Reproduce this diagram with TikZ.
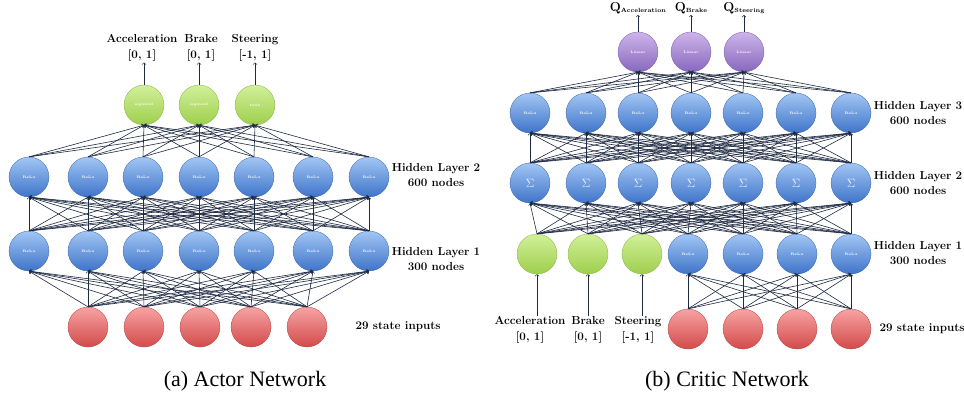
\documentclass[tikz,border=0pt]{standalone}
\usepackage{fontspec}
\usepackage{amsmath}
\newfontfamily\capfont{Liberation Serif}

\definecolor{reluT}{HTML}{A2C6F4}
\definecolor{reluB}{HTML}{3F74C9}
\definecolor{stateT}{HTML}{F7A3A3}
\definecolor{stateB}{HTML}{D34A4A}
\definecolor{actT}{HTML}{D2F09A}
\definecolor{actB}{HTML}{9DCF4C}
\definecolor{linT}{HTML}{CDB5EA}
\definecolor{linB}{HTML}{8767BD}
\definecolor{linkc}{HTML}{1E2A42}

\tikzset{
	unit/.style={circle,minimum size=40pt,inner sep=0pt,text=white,font=\fontsize{3.6}{4}\selectfont\bfseries},
	relu/.style={unit,top color=reluT,bottom color=reluB,draw=reluB!85!black,line width=0.3pt},
	sumunit/.style={relu,font=\fontsize{13}{13}\selectfont,text=white!80!reluT},
	state/.style={unit,top color=stateT,bottom color=stateB,draw=stateB!85!black,line width=0.3pt},
	act/.style={unit,top color=actT,bottom color=actB,draw=actB!85!black,line width=0.3pt},
	lin/.style={unit,top color=linT,bottom color=linB,draw=linB!85!black,line width=0.3pt},
	link/.style={->,draw=linkc,line width=0.6pt},
	lbl/.style={inner sep=1pt,align=center,font=\fontsize{11.6}{15.5}\selectfont\bfseries},
	captxt/.style={font=\capfont\fontsize{22}{24}\selectfont}
}

\begin{document}
\begin{tikzpicture}[x=1pt,y=-1pt]
	\useasboundingbox (0,0) rectangle (964,398);

	\foreach \x [count=\i] in {29,88,143,199,254,313,369} {
		\node[relu] (ah1-\i) at (\x,251) {ReLu};
		\node[relu] (ah2-\i) at (\x,177) {ReLu};
	}
	\foreach \x [count=\i] in {88,144,200,251,307}
		\node[state] (ain-\i) at (\x,327) {};
	\node[act] (aout-1) at (144,105) {sigmoid};
	\node[act] (aout-2) at (199,105) {sigmoid};
	\node[act] (aout-3) at (255,105) {tanh};

	\foreach \i in {1,...,5}
		\foreach \j in {1,...,7}
			\draw[link] (ain-\i.north) -- (ah1-\j.south);
	\foreach \i in {1,...,7}
		\foreach \j in {1,...,7}
			\draw[link] (ah1-\i.north) -- (ah2-\j.south);
	\foreach \i in {1,...,7}
		\foreach \j in {1,...,3}
			\draw[link] (ah2-\i.north) -- (aout-\j.south);

	\node[lbl] (alab-1) at (142,48) {Acceleration\\{}[0, 1]};
	\node[lbl] (alab-2) at (201,48) {Brake\\{}[0, 1]};
	\node[lbl] (alab-3) at (255,48) {Steering\\{}[-1, 1]};
	\foreach \j in {1,2,3}
		\draw[link] (aout-\j.north) -- (aout-\j.north |- alab-\j.south);

	\node[lbl] (ah2-txt) at (436,175) {Hidden Layer 2\\600 nodes};
	\node[lbl] (ah1-txt) at (436,259) {Hidden Layer 1\\300 nodes};
	\node[lbl] (ain-txt) at (398,327) {29 state inputs};
	\node[captxt] (acap) at (245,381) {(a) Actor Network};

	\foreach \x [count=\i] in {530,586,638,691,743,796,851} {
		\node[sumunit] (cs-\i) at (\x,183) {$\Sigma$};
		\node[relu] (ch3-\i) at (\x,113) {ReLu};
	}
	\node[act] (cg-1) at (537,254) {};
	\node[act] (cg-2) at (588,254) {};
	\node[act] (cg-3) at (642,254) {};
	\foreach \x [count=\i] in {688,743,797,851} {
		\node[relu] (ch1-\i) at (\x,254) {ReLu};
		\node[state] (cin-\i) at (\x,329) {};
	}
	\foreach \x [count=\i] in {638,691,744}
		\node[lin] (cout-\i) at (\x,52) {Linear};

	\foreach \i in {1,...,4}
		\foreach \j in {1,...,4}
			\draw[link] (cin-\i.north) -- (ch1-\j.south);
	\foreach \n in {cg-1,cg-2,cg-3,ch1-1,ch1-2,ch1-3,ch1-4}
		\foreach \j in {1,...,7}
			\draw[link] (\n.north) -- (cs-\j.south);
	\foreach \i in {1,...,7}
		\foreach \j in {1,...,7}
			\draw[link] (cs-\i.north) -- (ch3-\j.south);
	\foreach \i in {1,...,7}
		\foreach \j in {1,...,3}
			\draw[link] (ch3-\i.north) -- (cout-\j.south);

	\node[lbl] (clab-1) at (530,330) {Acceleration\\{}[0, 1]};
	\node[lbl] (clab-2) at (588,330) {Brake\\{}[0, 1]};
	\node[lbl] (clab-3) at (638,330) {Steering\\{}[-1, 1]};
	\foreach \j in {1,2,3}
		\draw[link] (cg-\j.south |- clab-\j.north) -- (cg-\j.south);

	\node[lbl,font=\fontsize{13}{14}\selectfont\bfseries] (q-1) at (638,8) {Q\raisebox{-1.5pt}{\fontsize{6}{6}\selectfont Acceleration}};
	\node[lbl,font=\fontsize{13}{14}\selectfont\bfseries] (q-2) at (691,8) {Q\raisebox{-1.5pt}{\fontsize{6}{6}\selectfont Brake}};
	\node[lbl,font=\fontsize{13}{14}\selectfont\bfseries] (q-3) at (744,8) {Q\raisebox{-1.5pt}{\fontsize{6}{6}\selectfont Steering}};
	\foreach \j in {1,2,3}
		\draw[link] (cout-\j.north) -- (cout-\j.north |- q-\j.south);

	\node[lbl] (ch3-txt) at (918,113) {Hidden Layer 3\\600 nodes};
	\node[lbl] (cs-txt) at (918,183) {Hidden Layer 2\\600 nodes};
	\node[lbl] (ch1-txt) at (918,253) {Hidden Layer 1\\300 nodes};
	\node[lbl] (cin-txt) at (922,329) {29 state inputs};
	\node[captxt] (ccap) at (727,381) {(b) Critic Network};
\end{tikzpicture}
\end{document}
